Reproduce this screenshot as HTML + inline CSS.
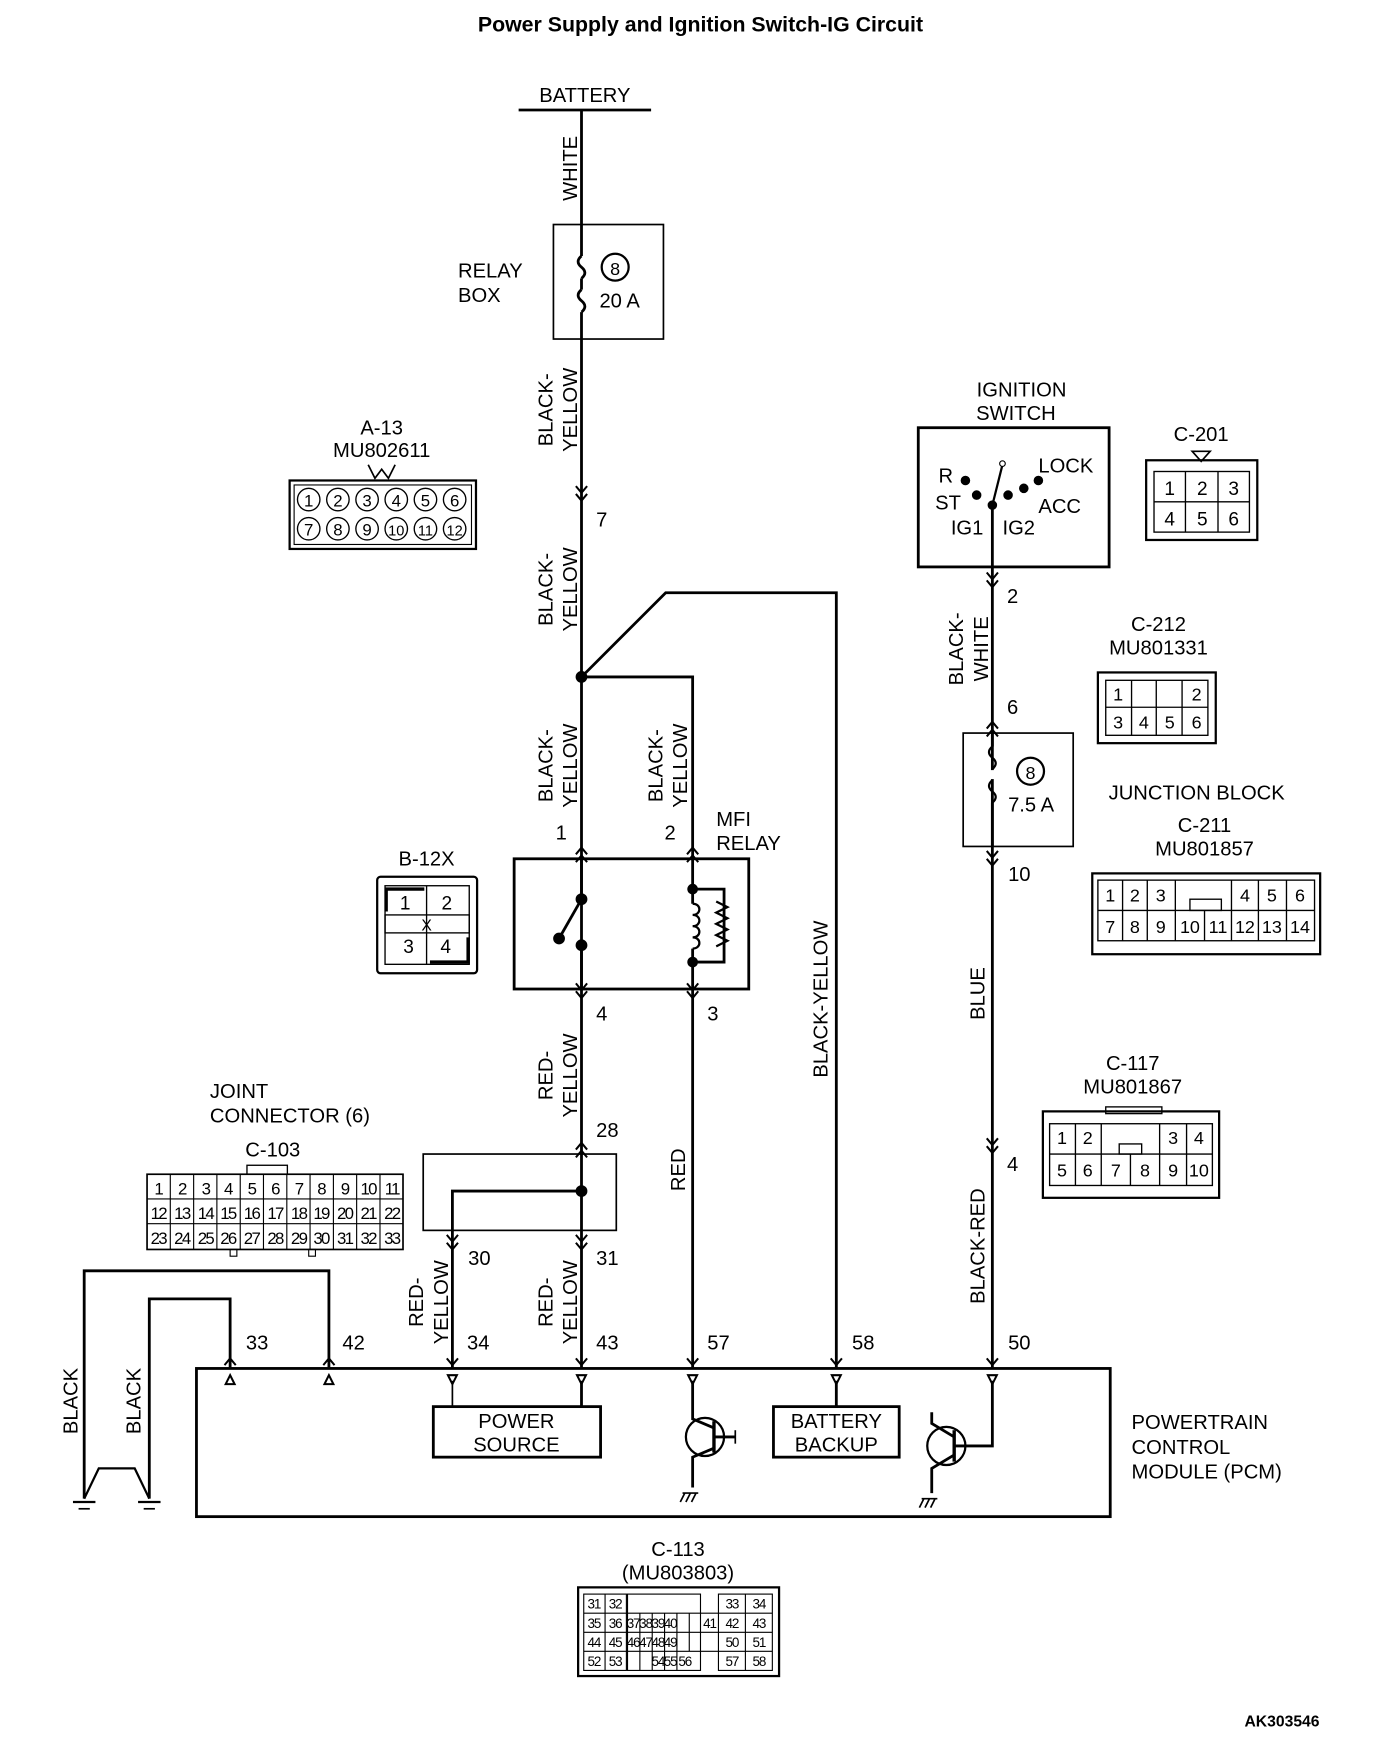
<!DOCTYPE html>
<html><head><meta charset="utf-8"><style>
html,body{margin:0;padding:0;background:#fff;}
svg{display:block;}
text{font-family:"Liberation Sans",sans-serif;fill:#000;}
</style></head><body>
<svg width="1392" height="1758" viewBox="0 0 1240 1566" preserveAspectRatio="none" xmlns="http://www.w3.org/2000/svg">
<g font-size="18">
<text x="624" y="28" text-anchor="middle" font-weight="bold" font-size="19">Power Supply and Ignition Switch-IG Circuit</text>
<text x="1142" y="1538" text-anchor="middle" font-weight="bold" font-size="14">AK303546</text>

<g stroke="#000" stroke-width="2.5" fill="none">
<line x1="462" y1="98" x2="580" y2="98"/>
<line x1="518" y1="98" x2="518" y2="228"/>
<path d="M518 228 q-6 5 0 10 q6 5 0 10 M518 258 q-6 5 0 10 q6 5 0 10"/>
<line x1="518" y1="248" x2="518" y2="258"/>
<line x1="518" y1="278" x2="518" y2="1218"/>
<rect x="493" y="200" width="98" height="102" stroke-width="1.5"/>
<circle cx="548" cy="238" r="12" stroke-width="2"/>
<polyline points="518,603 593,528 745,528 745,1218"/>
<polyline points="518,603 617,603 617,1218"/>
<rect x="458" y="765" width="209" height="116"/>
<polyline points="617,792 645,792 645,857 617,857"/>
<path d="M638 803 l10 5 -10 5 10 5 -10 5 10 5 -10 5 10 5 -10 5" stroke-width="2"/>
<rect x="377" y="1028" width="172" height="68" stroke-width="1.5"/>
<polyline points="518,1061 403,1061 403,1218"/>
<rect x="818" y="381" width="170" height="124"/>
<line x1="884" y1="450" x2="884" y2="1218"/>
<rect x="858" y="653" width="98" height="101" stroke-width="1.5"/>
<circle cx="918" cy="687" r="12" stroke-width="2"/>
<rect x="175" y="1219" width="814" height="132"/>
<rect x="386" y="1253" width="149" height="45"/>
<rect x="689" y="1253" width="112" height="45"/>
<line x1="403" y1="1230" x2="403" y2="1253" stroke-width="1.5"/>
<line x1="518" y1="1230" x2="518" y2="1253"/>
<line x1="745" y1="1230" x2="745" y2="1253"/>
<circle cx="628" cy="1280" r="17" stroke-width="2"/>
<polyline points="617,1230 617,1264 636,1272"/>
<polyline points="636,1290 617,1298 617,1325"/>
<line x1="636" y1="1266" x2="636" y2="1294" stroke-width="3"/>
<line x1="636" y1="1280" x2="655" y2="1280"/>
<line x1="655" y1="1274" x2="655" y2="1286" stroke-width="1.5"/>
<circle cx="843" cy="1288" r="17" stroke-width="2"/>
<polyline points="884,1230 884,1288 850,1288"/>
<line x1="850" y1="1274" x2="850" y2="1302" stroke-width="3"/>
<polyline points="850,1280 830,1268 830,1258"/>
<polyline points="850,1296 830,1308 830,1330"/>
<polyline points="293,1218 293,1132 75,1132 75,1335"/>
<polyline points="205,1218 205,1157 133,1157 133,1335"/>
<polyline points="75,1335 88,1308 120,1308 133,1335" stroke-width="2"/>
<line x1="65" y1="1338" x2="85" y2="1338" stroke-width="2"/><line x1="70" y1="1344" x2="80" y2="1344" stroke-width="1.5"/>
<line x1="123" y1="1338" x2="143" y2="1338" stroke-width="2"/><line x1="128" y1="1344" x2="138" y2="1344" stroke-width="1.5"/>
<path d="M610 1330 l-4 8 M615 1330 l-4 8 M620 1330 l-4 8 M608 1330 h14 M823 1335 l-4 8 M828 1335 l-4 8 M833 1335 l-4 8 M821 1335 h14" stroke-width="1.5"/>
</g>
<g stroke="#000" stroke-width="2.5" fill="#000">
<circle cx="518" cy="801" r="4"/><circle cx="518" cy="842" r="4"/><circle cx="498" cy="836" r="4"/>
<line x1="498" y1="836" x2="518" y2="801"/>
<line x1="518" y1="842" x2="518" y2="881"/>
<line x1="518" y1="765" x2="518" y2="801"/>
<circle cx="617" cy="792" r="3.5"/><circle cx="617" cy="857" r="3.5"/>
<circle cx="518" cy="603" r="4"/><circle cx="518" cy="1061" r="4"/>
<circle cx="884" cy="450" r="3"/><circle cx="870" cy="441" r="3"/><circle cx="860" cy="428" r="3"/><circle cx="898" cy="441" r="3"/><circle cx="912" cy="435" r="3"/><circle cx="925" cy="428" r="3"/>
</g>
<g stroke="#fff" stroke-width="4"><line x1="617" y1="805" x2="617" y2="845"/></g>
<path d="M617 805 c8 0 8 10 0 10 c8 0 8 10 0 10 c8 0 8 10 0 10 c8 0 8 10 0 10" stroke="#000" stroke-width="2" fill="none"/>
<line x1="884" y1="450" x2="893" y2="414" stroke="#000" stroke-width="2"/><circle cx="893" cy="413" r="2.5" fill="#fff" stroke="#000"/>
<g stroke="#000" stroke-width="1.8" fill="none">
<path d="M513 433 l5 6 5 -6 M513 440 l5 6 5 -6"/>
<path d="M513 761 l5 -6 5 6 M513 768 l5 -6 5 6"/>
<path d="M612 761 l5 -6 5 6 M612 768 l5 -6 5 6"/>
<path d="M513 876 l5 6 5 -6 M513 883 l5 6 5 -6"/>
<path d="M612 876 l5 6 5 -6 M612 883 l5 6 5 -6"/>
<path d="M513 1024 l5 -6 5 6 M513 1031 l5 -6 5 6"/>
<path d="M398 1100 l5 6 5 -6 M398 1107 l5 6 5 -6"/>
<path d="M513 1100 l5 6 5 -6 M513 1107 l5 6 5 -6"/>
<path d="M879 510 l5 6 5 -6 M879 517 l5 6 5 -6"/>
<path d="M879 649 l5 -6 5 6 M879 656 l5 -6 5 6"/>
<path d="M879 758 l5 6 5 -6 M879 765 l5 6 5 -6"/>
<path d="M879 1014 l5 6 5 -6 M879 1021 l5 6 5 -6"/>
<path d="M200 1216 l5 -6 5 6 M288 1216 l5 -6 5 6 M398 1210 l5 6 5 -6 M513 1210 l5 6 5 -6 M612 1210 l5 6 5 -6 M740 1210 l5 6 5 -6 M879 1210 l5 6 5 -6"/>
<path d="M201 1233 l4 -8 4 8z M289 1233 l4 -8 4 8z M399 1225 l4 8 4 -8z M514 1225 l4 8 4 -8z M613 1225 l4 8 4 -8z M741 1225 l4 8 4 -8z M880 1225 l4 8 4 -8z"/>
</g>

<text x="521" y="91" text-anchor="middle">BATTERY</text>
<text transform="translate(514 150) rotate(-90)" text-anchor="middle">WHITE</text>
<text x="408" y="247">RELAY</text><text x="408" y="269">BOX</text>
<text x="548" y="245" text-anchor="middle" font-size="16">8</text>
<text x="534" y="274">20 A</text>
<text transform="translate(492 365) rotate(-90)" text-anchor="middle">BLACK-</text>
<text transform="translate(514 365) rotate(-90)" text-anchor="middle">YELLOW</text>
<text x="531" y="469">7</text>
<text transform="translate(492 525) rotate(-90)" text-anchor="middle">BLACK-</text>
<text transform="translate(514 525) rotate(-90)" text-anchor="middle">YELLOW</text>
<text transform="translate(492 682) rotate(-90)" text-anchor="middle">BLACK-</text>
<text transform="translate(514 682) rotate(-90)" text-anchor="middle">YELLOW</text>
<text transform="translate(590 682) rotate(-90)" text-anchor="middle">BLACK-</text>
<text transform="translate(612 682) rotate(-90)" text-anchor="middle">YELLOW</text>
<text x="495" y="748">1</text><text x="592" y="748">2</text>
<text x="638" y="736">MFI</text><text x="638" y="757">RELAY</text>
<text x="531" y="909">4</text><text x="630" y="909">3</text>
<text transform="translate(737 890) rotate(-90)" text-anchor="middle">BLACK-YELLOW</text>
<text transform="translate(492 958) rotate(-90)" text-anchor="middle">RED-</text>
<text transform="translate(514 958) rotate(-90)" text-anchor="middle">YELLOW</text>
<text x="531" y="1013">28</text>
<text transform="translate(610 1042) rotate(-90)" text-anchor="middle">RED</text>
<text x="417" y="1127">30</text><text x="531" y="1127">31</text>
<text transform="translate(377 1160) rotate(-90)" text-anchor="middle">RED-</text>
<text transform="translate(399 1160) rotate(-90)" text-anchor="middle">YELLOW</text>
<text transform="translate(492 1160) rotate(-90)" text-anchor="middle">RED-</text>
<text transform="translate(514 1160) rotate(-90)" text-anchor="middle">YELLOW</text>
<text x="219" y="1202">33</text><text x="305" y="1202">42</text><text x="416" y="1202">34</text><text x="531" y="1202">43</text><text x="630" y="1202">57</text><text x="759" y="1202">58</text><text x="898" y="1202">50</text>
<text transform="translate(69 1248) rotate(-90)" text-anchor="middle">BLACK</text>
<text transform="translate(125 1248) rotate(-90)" text-anchor="middle">BLACK</text>
<text x="460" y="1272" text-anchor="middle">POWER</text><text x="460" y="1293" text-anchor="middle">SOURCE</text>
<text x="745" y="1272" text-anchor="middle">BATTERY</text><text x="745" y="1293" text-anchor="middle">BACKUP</text>
<text x="1008" y="1273">POWERTRAIN</text><text x="1008" y="1295">CONTROL</text><text x="1008" y="1317">MODULE (PCM)</text>

<text x="910" y="353" text-anchor="middle">IGNITION</text><text x="905" y="374" text-anchor="middle">SWITCH</text>
<text x="836" y="430">R</text><text x="925" y="421">LOCK</text><text x="833" y="454">ST</text><text x="925" y="457">ACC</text>
<text x="847" y="476">IG1</text><text x="893" y="476">IG2</text>
<text x="897" y="537">2</text>
<text transform="translate(858 578) rotate(-90)" text-anchor="middle">BLACK-</text>
<text transform="translate(880 578) rotate(-90)" text-anchor="middle">WHITE</text>
<text x="897" y="636">6</text>
<path d="M884 665 q-6 5 0 10 q6 5 0 10 M884 695 q-6 5 0 10 q6 5 0 10" stroke="#000" stroke-width="2" fill="none"/>
<line x1="884" y1="653" x2="884" y2="665" stroke="#000" stroke-width="2.5"/>
<line x1="884" y1="715" x2="884" y2="754" stroke="#000" stroke-width="2.5"/>
<rect x="881" y="686" width="6" height="8" fill="#fff"/>
<text x="918" y="694" text-anchor="middle" font-size="16">8</text>
<text x="898" y="723">7.5 A</text>
<text x="898" y="785">10</text>
<text transform="translate(877 885) rotate(-90)" text-anchor="middle">BLUE</text>
<text x="897" y="1043">4</text>
<text transform="translate(877 1110) rotate(-90)" text-anchor="middle">BLACK-RED</text>

<text x="340" y="387" text-anchor="middle">A-13</text><text x="340" y="407" text-anchor="middle">MU802611</text>
<path d="M328 414 l6 12 6 -8 6 8 6 -12" stroke="#000" fill="none" stroke-width="1.5"/>
<rect x="258" y="428" width="166" height="61" fill="none" stroke="#000" stroke-width="2"/>
<rect x="262" y="432" width="158" height="53" fill="none" stroke="#000" stroke-width="1"/>
<g fill="none" stroke="#000" stroke-width="1.2">
<circle cx="275" cy="445" r="10"/><circle cx="301" cy="445" r="10"/><circle cx="327" cy="445" r="10"/><circle cx="353" cy="445" r="10"/><circle cx="379" cy="445" r="10"/><circle cx="405" cy="445" r="10"/>
<circle cx="275" cy="471" r="10"/><circle cx="301" cy="471" r="10"/><circle cx="327" cy="471" r="10"/><circle cx="353" cy="471" r="10"/><circle cx="379" cy="471" r="10"/><circle cx="405" cy="471" r="10"/>
</g>
<g font-size="15" text-anchor="middle">
<text x="275" y="451">1</text><text x="301" y="451">2</text><text x="327" y="451">3</text><text x="353" y="451">4</text><text x="379" y="451">5</text><text x="405" y="451">6</text>
<text x="275" y="477">7</text><text x="301" y="477">8</text><text x="327" y="477">9</text><text x="353" y="477" font-size="13">10</text><text x="379" y="477" font-size="13">11</text><text x="405" y="477" font-size="13">12</text>
</g>

<text x="1070" y="393" text-anchor="middle">C-201</text>
<path d="M1062 402 l8 9 8 -9z" fill="none" stroke="#000" stroke-width="1.5"/>
<rect x="1021" y="410" width="99" height="71" fill="none" stroke="#000" stroke-width="2"/>
<g fill="none" stroke="#000" stroke-width="1.2"><rect x="1028" y="420" width="85" height="54"/><line x1="1028" y1="447" x2="1113" y2="447"/><line x1="1056" y1="420" x2="1056" y2="474"/><line x1="1085" y1="420" x2="1085" y2="474"/></g>
<g text-anchor="middle" font-size="17"><text x="1042" y="441">1</text><text x="1071" y="441">2</text><text x="1099" y="441">3</text><text x="1042" y="468">4</text><text x="1071" y="468">5</text><text x="1099" y="468">6</text></g>

<text x="1032" y="562" text-anchor="middle">C-212</text><text x="1032" y="583" text-anchor="middle">MU801331</text>
<rect x="978" y="599" width="105" height="63" fill="none" stroke="#000" stroke-width="2"/>
<g fill="none" stroke="#000" stroke-width="1.2"><rect x="985" y="606" width="91" height="49"/><line x1="985" y1="630" x2="1076" y2="630"/><line x1="1008" y1="606" x2="1008" y2="655"/><line x1="1030" y1="606" x2="1030" y2="655"/><line x1="1053" y1="606" x2="1053" y2="655"/></g>
<g text-anchor="middle" font-size="16"><text x="996" y="624">1</text><text x="1066" y="624">2</text><text x="996" y="649">3</text><text x="1019" y="649">4</text><text x="1042" y="649">5</text><text x="1066" y="649">6</text></g>

<text x="1066" y="712" text-anchor="middle">JUNCTION BLOCK</text>
<text x="1073" y="741" text-anchor="middle">C-211</text><text x="1073" y="762" text-anchor="middle">MU801857</text>
<rect x="973" y="778" width="203" height="72" fill="none" stroke="#000" stroke-width="2"/>
<g fill="none" stroke="#000" stroke-width="1.2"><rect x="978" y="784" width="193" height="54"/><line x1="978" y1="811" x2="1171" y2="811"/>
<line x1="1000" y1="784" x2="1000" y2="838"/><line x1="1022" y1="784" x2="1022" y2="838"/><line x1="1047" y1="784" x2="1047" y2="838"/><line x1="1073" y1="811" x2="1073" y2="838"/><line x1="1097" y1="784" x2="1097" y2="838"/><line x1="1121" y1="784" x2="1121" y2="838"/><line x1="1146" y1="784" x2="1146" y2="838"/><rect x="1060" y="801" width="28" height="10"/></g>
<g text-anchor="middle" font-size="16"><text x="989" y="803">1</text><text x="1011" y="803">2</text><text x="1034" y="803">3</text><text x="1109" y="803">4</text><text x="1133" y="803">5</text><text x="1158" y="803">6</text>
<text x="989" y="831">7</text><text x="1011" y="831">8</text><text x="1034" y="831">9</text><text x="1060" y="831">10</text><text x="1085" y="831">11</text><text x="1109" y="831">12</text><text x="1133" y="831">13</text><text x="1158" y="831">14</text></g>

<text x="1009" y="953" text-anchor="middle">C-117</text><text x="1009" y="974" text-anchor="middle">MU801867</text>
<rect x="929" y="990" width="157" height="77" fill="none" stroke="#000" stroke-width="2"/>
<g fill="none" stroke="#000" stroke-width="1.2"><rect x="935" y="1001" width="145" height="55"/><line x1="935" y1="1028" x2="1080" y2="1028"/>
<line x1="958" y1="1001" x2="958" y2="1056"/><line x1="981" y1="1001" x2="981" y2="1056"/><line x1="1033" y1="1001" x2="1033" y2="1056"/><line x1="1057" y1="1001" x2="1057" y2="1056"/><line x1="1007" y1="1028" x2="1007" y2="1056"/><rect x="997" y="1019" width="20" height="9"/><rect x="985" y="986" width="50" height="6"/></g>
<g text-anchor="middle" font-size="16"><text x="946" y="1019">1</text><text x="969" y="1019">2</text><text x="1045" y="1019">3</text><text x="1068" y="1019">4</text>
<text x="946" y="1048">5</text><text x="969" y="1048">6</text><text x="994" y="1048">7</text><text x="1020" y="1048">8</text><text x="1045" y="1048">9</text><text x="1068" y="1048">10</text></g>

<text x="380" y="771" text-anchor="middle">B-12X</text>
<rect x="336" y="781" width="89" height="86" rx="3" fill="none" stroke="#000" stroke-width="2"/>
<g fill="none" stroke="#000" stroke-width="1.2"><rect x="343" y="789" width="75" height="70"/><rect x="343" y="815" width="75" height="16"/><line x1="380" y1="789" x2="380" y2="859"/></g>
<path d="M344 812 v-20 h34 M417 835 v22 h-34" stroke="#000" stroke-width="3" fill="none"/>
<g text-anchor="middle" font-size="17"><text x="361" y="810">1</text><text x="398" y="810">2</text><text x="380" y="829" font-size="14">X</text><text x="364" y="849">3</text><text x="397" y="849">4</text></g>

<text x="187" y="978">JOINT</text><text x="187" y="1000">CONNECTOR (6)</text>
<text x="243" y="1030" text-anchor="middle">C-103</text>
<rect x="220" y="1038" width="36" height="8" fill="none" stroke="#000" stroke-width="1.2"/>
<rect x="131" y="1046" width="228" height="67" fill="none" stroke="#000" stroke-width="1.5"/>
<g stroke="#000" stroke-width="1" fill="none"><line x1="131" y1="1068" x2="359" y2="1068"/><line x1="131" y1="1090" x2="359" y2="1090"/>
<path d="M151.7 1046v67M172.5 1046v67M193.2 1046v67M214 1046v67M234.7 1046v67M255.5 1046v67M276.2 1046v67M297 1046v67M317.7 1046v67M338.5 1046v67"/><rect x="205" y="1113" width="6" height="6"/><rect x="275" y="1113" width="6" height="6"/></g>
<g text-anchor="middle" font-size="15" style="letter-spacing:-1.5px">
<text x="141" y="1064">1</text><text x="162" y="1064">2</text><text x="183" y="1064">3</text><text x="203" y="1064">4</text><text x="224" y="1064">5</text><text x="245" y="1064">6</text><text x="266" y="1064">7</text><text x="286" y="1064">8</text><text x="307" y="1064">9</text><text x="328" y="1064">10</text><text x="349" y="1064">11</text>
<text x="141" y="1086">12</text><text x="162" y="1086">13</text><text x="183" y="1086">14</text><text x="203" y="1086">15</text><text x="224" y="1086">16</text><text x="245" y="1086">17</text><text x="266" y="1086">18</text><text x="286" y="1086">19</text><text x="307" y="1086">20</text><text x="328" y="1086">21</text><text x="349" y="1086">22</text>
<text x="141" y="1108">23</text><text x="162" y="1108">24</text><text x="183" y="1108">25</text><text x="203" y="1108">26</text><text x="224" y="1108">27</text><text x="245" y="1108">28</text><text x="266" y="1108">29</text><text x="286" y="1108">30</text><text x="307" y="1108">31</text><text x="328" y="1108">32</text><text x="349" y="1108">33</text>
</g>

<text x="604" y="1386" text-anchor="middle">C-113</text><text x="604" y="1407" text-anchor="middle">(MU803803)</text>
<rect x="515" y="1414" width="179" height="79" fill="none" stroke="#000" stroke-width="2"/>
<g stroke="#000" stroke-width="1" fill="none"><rect x="520" y="1420" width="38" height="68"/><rect x="559" y="1420" width="65" height="68"/><rect x="640" y="1420" width="48" height="68"/>
<line x1="520" y1="1437" x2="688" y2="1437"/><line x1="520" y1="1454" x2="688" y2="1454"/><line x1="520" y1="1471" x2="688" y2="1471"/>
<path d="M539 1420v68M570 1437v51M581 1437v51M592 1437v51M603 1437v51M614 1437v34M664 1420v68"/></g>
<g font-size="12" text-anchor="middle" style="letter-spacing:-1px">
<text x="529" y="1433">31</text><text x="548" y="1433">32</text><text x="652" y="1433">33</text><text x="676" y="1433">34</text>
<text x="529" y="1450">35</text><text x="548" y="1450">36</text><text x="564" y="1450">37</text><text x="575" y="1450">38</text><text x="586" y="1450">39</text><text x="597" y="1450">40</text><text x="632" y="1450">41</text><text x="652" y="1450">42</text><text x="676" y="1450">43</text>
<text x="529" y="1467">44</text><text x="548" y="1467">45</text><text x="564" y="1467">46</text><text x="575" y="1467">47</text><text x="586" y="1467">48</text><text x="597" y="1467">49</text><text x="652" y="1467">50</text><text x="676" y="1467">51</text>
<text x="529" y="1484">52</text><text x="548" y="1484">53</text><text x="586" y="1484">54</text><text x="597" y="1484">55</text><text x="610" y="1484">56</text><text x="652" y="1484">57</text><text x="676" y="1484">58</text>
</g>
</g>
</svg>
</body></html>
